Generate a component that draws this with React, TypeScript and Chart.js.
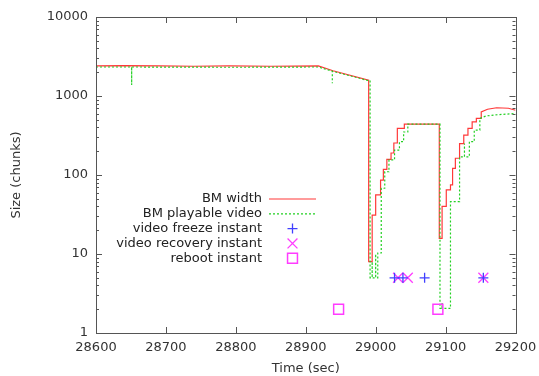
import React, { useEffect, useRef } from "react";
import { Chart, registerables } from "chart.js";

Chart.register(...registerables);

// ---------- data ----------
const xTickValues = [28600, 28700, 28800, 28900, 29000, 29100, 29200];
const yTickValues = [1, 10, 100, 1000, 10000];

const legendLabels = [
  "BM width",
  "BM playable video",
  "video freeze instant",
  "video recovery instant",
  "reboot instant",
];

// [time (sec), size (chunks)]
const bmWidth: [number, number][] = [
  [28600, 2400], [28640, 2430], [28690, 2400], [28740, 2380], [28790, 2400],
  [28850, 2380], [28918, 2400], [28939, 2090], [28990, 1590], [28990, 8],
  [28995, 8], [28995, 31], [29000, 31], [29000, 56], [29007, 56], [29007, 86],
  [29011, 86], [29011, 118], [29016, 118], [29016, 158], [29022, 158],
  [29022, 190], [29026, 190], [29026, 254], [29031, 254], [29031, 390],
  [29041, 390], [29041, 440], [29091, 440], [29091, 15.8], [29095, 15.8],
  [29095, 40], [29101, 40], [29101, 65], [29107, 65], [29107, 75], [29110, 75],
  [29110, 121], [29114, 121], [29114, 163], [29120, 163], [29120, 250],
  [29126, 250], [29126, 320], [29132, 320], [29132, 390], [29138, 390],
  [29138, 470], [29144, 470], [29144, 520], [29151, 520], [29151, 630],
  [29160, 680], [29173, 710], [29190, 700], [29200, 660],
];

const bmPlayable: [number, number][] = [
  [28600, 2330], [28651, 2330], [28651, 1380], [28651, 2330], [28700, 2320],
  [28800, 2310], [28918, 2330], [28938, 2060], [28938, 1450], [28938, 2060],
  [28989, 1570], [28992, 1570], [28992, 5], [28995, 5], [28995, 8], [28995, 5],
  [29000, 5], [29000, 10], [29000, 5], [29003, 5], [29003, 10.3], [29008, 10.3],
  [29008, 68], [29013, 68], [29013, 110], [29019, 110], [29019, 155],
  [29027, 155], [29027, 207], [29034, 207], [29034, 264], [29040, 264],
  [29040, 350], [29046, 350], [29046, 440], [29092, 440], [29092, 2.05],
  [29095, 2.05], [29095, 2.4], [29095, 2.05], [29107, 2.05], [29107, 46],
  [29120, 46], [29120, 170], [29127, 170], [29127, 250], [29127, 170],
  [29134, 170], [29134, 265], [29141, 265], [29141, 370], [29149, 370],
  [29149, 520], [29158, 560], [29175, 580], [29200, 600],
];

const freezeTimes = [29027, 29039, 29070, 29154];
const freezeValue = 5;
const recoveryTimes = [29032, 29046, 29154];
const recoveryValue = 5;
const rebootTimes = [28947, 29089];
const rebootValue = 2;

// ---------- styles ----------
const FONT = "'DejaVu Sans', 'Liberation Sans', Arial, sans-serif";
const TEXT = "#333";
const RED = "#ff3838";
const GREEN = "#22d022";
const BLUE = "#4040ff";
const MAGENTA = "#ff3cff";

const framePlugin = {
  id: "frameTicks",
  afterDatasetsDraw(chart: any) {
    const { ctx, chartArea, scales } = chart;
    const { left, right, top, bottom } = chartArea;
    const xs = scales.x;
    const ys = scales.y;
    ctx.save();
    ctx.strokeStyle = "#555";
    ctx.lineWidth = 1;
    ctx.beginPath();
    for (const t of xTickValues) {
      const px = Math.round(xs.getPixelForValue(t)) + 0.5;
      ctx.moveTo(px, bottom);
      ctx.lineTo(px, bottom - 6);
      ctx.moveTo(px, top);
      ctx.lineTo(px, top + 6);
    }
    for (let i = 0; i < yTickValues.length; i++) {
      const d = yTickValues[i];
      const maxM = i === yTickValues.length - 1 ? 1 : 9;
      for (let m = 1; m <= maxM; m++) {
        const py = Math.round(ys.getPixelForValue(d * m)) + 0.5;
        const len = m === 1 ? 6 : 3;
        ctx.moveTo(left, py);
        ctx.lineTo(left + len, py);
        ctx.moveTo(right, py);
        ctx.lineTo(right - len, py);
      }
    }
    ctx.stroke();
    ctx.strokeRect(Math.round(left) + 0.5, Math.round(top) + 0.5, Math.round(right - left), Math.round(bottom - top));
    ctx.restore();
  },
};

const legendPlugin = {
  id: "insideLegend",
  afterDraw(chart: any) {
    const { ctx, chartArea } = chart;
    const textRight = chartArea.left + 166;
    const sampleL = chartArea.left + 173;
    const sampleR = chartArea.left + 220;
    const sampleC = (sampleL + sampleR) / 2;
    const y0 = chartArea.top + 182;
    const dy = 14.8;
    ctx.save();
    ctx.font = `13px ${FONT}`;
    ctx.fillStyle = "#222";
    ctx.textAlign = "right";
    ctx.textBaseline = "middle";
    legendLabels.forEach((label, i) => {
      const yy = y0 + i * dy;
      ctx.fillText(label, textRight, yy);
      const ds = chart.data.datasets[i];
      ctx.save();
      if (i < 2) {
        ctx.strokeStyle = ds.borderColor;
        ctx.lineWidth = ds.borderWidth;
        ctx.setLineDash(ds.borderDash || []);
        ctx.beginPath();
        ctx.moveTo(sampleL, yy);
        ctx.lineTo(sampleR, yy);
        ctx.stroke();
      } else {
        ctx.strokeStyle = ds.pointBorderColor;
        ctx.lineWidth = ds.pointBorderWidth;
        const r = ds.pointRadius;
        ctx.beginPath();
        if (ds.pointStyle === "cross") {
          ctx.moveTo(sampleC - r, yy);
          ctx.lineTo(sampleC + r, yy);
          ctx.moveTo(sampleC, yy - r);
          ctx.lineTo(sampleC, yy + r);
        } else if (ds.pointStyle === "crossRot") {
          const o = r * Math.SQRT1_2;
          ctx.moveTo(sampleC - o, yy - o);
          ctx.lineTo(sampleC + o, yy + o);
          ctx.moveTo(sampleC - o, yy + o);
          ctx.lineTo(sampleC + o, yy - o);
        } else {
          const s = r * Math.SQRT1_2;
          ctx.rect(sampleC - s, yy - s, 2 * s, 2 * s);
        }
        ctx.stroke();
      }
      ctx.restore();
    });
    ctx.restore();
  },
};

export default function App() {
  const ref = useRef<HTMLCanvasElement | null>(null);

  useEffect(() => {
    document.body.style.margin = "0";
    const canvas = ref.current;
    if (!canvas) return;
    const chart = new Chart(canvas, {
      type: "scatter",
      data: {
        datasets: [
          {
            label: legendLabels[0],
            data: bmWidth.map(([x, y]) => ({ x, y })),
            showLine: true,
            borderColor: RED,
            borderWidth: 1.2,
            pointRadius: 0,
            order: 2,
          } as any,
          {
            label: legendLabels[1],
            data: bmPlayable.map(([x, y]) => ({ x, y })),
            showLine: true,
            borderColor: GREEN,
            borderWidth: 1.2,
            borderDash: [2, 2],
            pointRadius: 0,
            order: 1,
          },
          {
            label: legendLabels[2],
            data: freezeTimes.map((x) => ({ x, y: freezeValue })),
            showLine: false,
            pointStyle: "cross",
            pointRadius: 5,
            pointBorderColor: BLUE,
            pointBorderWidth: 1.3,
            pointBackgroundColor: "transparent",
            order: 0,
          },
          {
            label: legendLabels[3],
            data: recoveryTimes.map((x) => ({ x, y: recoveryValue })),
            showLine: false,
            pointStyle: "crossRot",
            pointRadius: 7,
            pointBorderColor: MAGENTA,
            pointBorderWidth: 1.3,
            pointBackgroundColor: "transparent",
            order: 0,
          },
          {
            label: legendLabels[4],
            data: rebootTimes.map((x) => ({ x, y: rebootValue })),
            showLine: false,
            pointStyle: "rect",
            pointRadius: 7,
            pointBorderColor: MAGENTA,
            pointBorderWidth: 1.5,
            pointBackgroundColor: "transparent",
            order: 0,
          },
        ],
      },
      options: {
        responsive: false,
        animation: false,
        events: [],
        layout: { padding: { left: 0, top: 17, right: 23.5, bottom: 0 } },
        plugins: {
          legend: { display: false },
          tooltip: { enabled: false },
        },
        scales: {
          x: {
            type: "linear",
            min: 28600,
            max: 29200,
            afterBuildTicks: (scale: any) => {
              scale.ticks = xTickValues.map((v) => ({ value: v }));
            },
            afterFit: (scale: any) => {
              scale.height = 43;
              scale.paddingLeft = 0;
              scale.paddingRight = 0;
            },
            grid: { display: false, drawTicks: false },
            border: { display: false },
            ticks: {
              padding: 7,
              color: TEXT,
              font: { family: FONT, size: 13 },
              maxRotation: 0,
              callback: (v: any) => String(v),
            },
            title: {
              display: true,
              text: "Time (sec)",
              color: TEXT,
              font: { family: FONT, size: 13 },
              padding: { top: 0, bottom: 0 },
            },
          },
          y: {
            type: "logarithmic",
            min: 1,
            max: 10000,
            afterBuildTicks: (scale: any) => {
              scale.ticks = yTickValues.map((v) => ({ value: v }));
            },
            afterFit: (scale: any) => {
              scale.width = 96;
              scale.paddingTop = 0;
              scale.paddingBottom = 0;
            },
            grid: { display: false, drawTicks: false },
            border: { display: false },
            ticks: {
              padding: 8,
              color: TEXT,
              font: { family: FONT, size: 13 },
              callback: (v: any) => String(v),
            },
            title: {
              display: true,
              text: "Size (chunks)",
              color: TEXT,
              font: { family: FONT, size: 13 },
              padding: { top: 9, bottom: 0 },
            },
          },
        },
      },
      plugins: [framePlugin, legendPlugin],
    } as any);
    return () => chart.destroy();
  }, []);

  return (
    <div style={{ width: 539, height: 376 }}>
      <canvas ref={ref} width={539} height={376} />
    </div>
  );
}
